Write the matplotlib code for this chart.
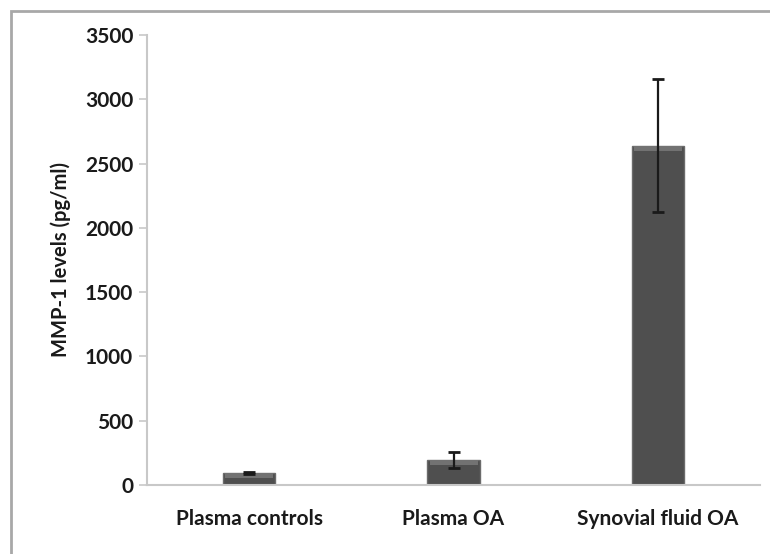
import matplotlib.pyplot as plt
from matplotlib.patches import Rectangle

# data
groups = ["Plasma controls", "Plasma OA", "Synovial fluid OA"]
means = [93, 194, 2640]
errors = [8, 65, 520]

plt.rcParams["font.family"] = ["Lato", "DejaVu Sans"]
plt.rcParams["font.weight"] = "bold"

fig = plt.figure(figsize=(7.7, 5.54), dpi=100)
ax = fig.add_axes([0.191, 0.1245, 0.796, 0.8125])

x = range(len(groups))
ax.bar(x, means, width=0.255, color="#4f4f4f", edgecolor="#6b6b6b", linewidth=1, zorder=2)
# lighter band at the top of each bar
band = 40
ax.bar(x, [band] * len(means), bottom=[m - band for m in means], width=0.235,
       color="#727272", linewidth=0, zorder=3)
ax.errorbar(x, means, yerr=errors, fmt="none", ecolor="#1a1a1a", elinewidth=1.6,
            capsize=4, capthick=2, zorder=4)

ax.set_xlim(-0.5, 2.5)
ax.set_ylim(0, 3500)
ax.set_yticks(range(0, 3501, 500))
ax.set_xticks(list(x))
ax.set_xticklabels(groups)

for s in ["top", "right"]:
    ax.spines[s].set_visible(False)
for s in ["left", "bottom"]:
    ax.spines[s].set_color("#c8c8c8")
    ax.spines[s].set_linewidth(1.5)

ax.tick_params(axis="y", length=6, color="#c8c8c8", width=1.2, labelsize=15, pad=4,
               labelcolor="#1a1a1a")
ax.tick_params(axis="x", length=0, labelsize=15, pad=17, labelcolor="#1a1a1a")
ax.set_ylabel("MMP-1 levels (pg/ml)", fontsize=14.5, fontweight="bold",
              color="#1a1a1a", labelpad=10)

# outer frame
fig.patches.append(Rectangle((11 / 770, -0.05), 1.1, 1 - 11 / 554 + 0.05,
                             transform=fig.transFigure, fill=False,
                             edgecolor="#a8a8a8", linewidth=2))

fig.savefig("out.png", dpi=100)
